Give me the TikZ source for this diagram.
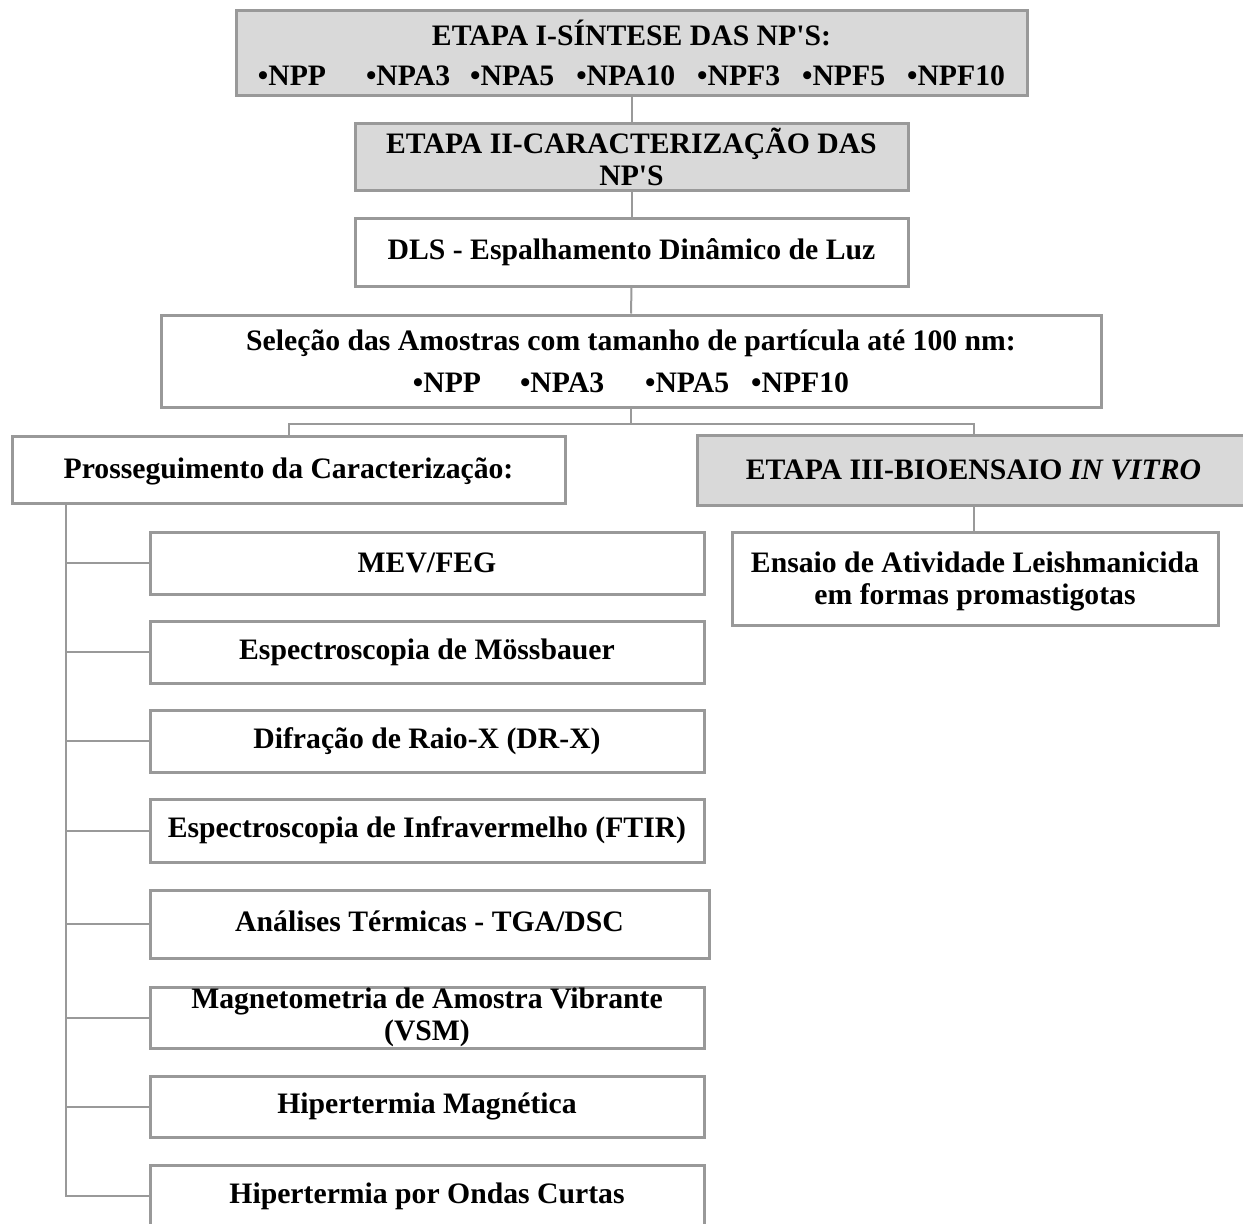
\documentclass[tikz,border=0pt]{standalone}
\usepackage{fontspec}
\newfontfamily\tnr{Liberation Serif}
\usetikzlibrary{calc}
\definecolor{edge}{HTML}{999999}
\definecolor{shade}{HTML}{D9D9D9}
% move text up or down inside its box without changing the box
\newcommand{\nudge}[2]{\raisebox{#1}[\height][\depth]{#2}}
\begin{document}
\begin{tikzpicture}[x=1pt,y=-1pt,
  box/.style={draw=edge, line width=3pt, fill=white, rectangle, inner sep=0pt,
    align=center, text=black, font=\tnr\bfseries\fontsize{29.7}{32}\selectfont},
  stage/.style={box, fill=shade},
  tool/.style={box, minimum width=554, minimum height=62},
  link/.style={draw=edge, line width=2pt}]
\clip (0,0) rectangle (1243,1224);
\fill[white] (0,0) rectangle (1243,1224);

% main sequence
\node[stage, minimum width=791, minimum height=85] (e1) at (631.5,52.5)
  {ETAPA I-SÍNTESE DAS NP'S:\\[8pt]
   •NPP\hspace{40pt}•NPA3\hspace{20pt}•NPA5\hspace{22pt}•NPA10\hspace{22pt}•NPF3\hspace{22pt}•NPF5\hspace{22pt}•NPF10};
\node[stage, minimum width=553, minimum height=67] (e2) at (631.5,156.5)
  {ETAPA II-CARACTERIZAÇÃO DAS\\NP'S};
\node[box, minimum width=553, minimum height=68] (dls) at (631.5,252)
  {DLS - Espalhamento Dinâmico de Luz};
\node[box, minimum width=940, minimum height=92] (sel) at (631,361)
  {Seleção das Amostras com tamanho de partícula até 100 nm:\\[10pt]
   •NPP\hspace{39pt}•NPA3\hspace{41pt}•NPA5\hspace{22pt}•NPF10};

% two branches
\node[box, minimum width=553, minimum height=67] (pro) at (288.5,469.5)
  {\nudge{-2pt}{Prosseguimento da Caracterização:}};
\node[stage, minimum width=553, minimum height=70] (e3) at (973.5,470)
  {ETAPA III-BIOENSAIO \textit{IN VITRO}};
\node[box, minimum width=486, minimum height=93] (ens) at (975,578.5)
  {\nudge{-4pt}{\begin{tabular}{@{}c@{}}Ensaio de Atividade Leishmanicida\\em formas promastigotas\end{tabular}}};

% characterization techniques
\node[tool] (mev) at (427,563) {MEV/FEG};
\node[tool] (moss) at (427,652) {Espectroscopia de Mössbauer};
\node[tool] (drx) at (427,741) {Difração de Raio-X (DR-X)};
\node[tool, minimum height=63] (ftir) at (427,830.5) {Espectroscopia de Infravermelho (FTIR)};
\node[tool, minimum width=559, minimum height=68] (ter) at (429.5,924) {\nudge{3pt}{Análises Térmicas - TGA/DSC}};
\node[tool, minimum height=61] (vsm) at (427,1017.5) {Magnetometria de Amostra Vibrante\\(VSM)};
\node[tool, minimum height=61] (hm) at (427,1106.5) {Hipertermia Magnética};
\node[tool] (hoc) at (427,1196) {Hipertermia por Ondas Curtas};

% connectors
\draw[link] (e1.south) -- (e2.north);
\draw[link] (e2.south) -- (dls.north);
\draw[link] (dls.south) -- (sel.north);
\coordinate (split) at ($(sel.south)+(0,15)$);
\draw[link] (sel.south) -- (split) -| (pro.north);
\draw[link] (split) -| (e3.north);
\draw[link] (e3.south) -- (e3.south |- ens.north);

\coordinate (trunk) at ($(pro.south west)+(55,0)$);
\draw[link] (trunk) |- (hoc.west);
\foreach \t in {mev,moss,drx,ftir,ter,vsm,hm}
  \draw[link] (trunk |- \t.west) -- (\t.west);
\end{tikzpicture}
\end{document}
